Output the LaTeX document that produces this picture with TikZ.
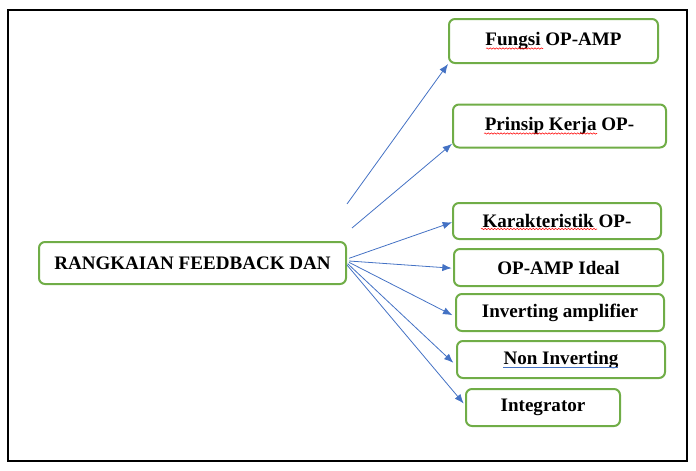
\documentclass[tikz,border=0pt]{standalone}
\usepackage{fontspec}
\setmainfont{Liberation Serif}
\usepackage{xcolor}
\usetikzlibrary{arrows.meta,positioning,calc,decorations.pathmorphing}

\definecolor{boxgreen}{RGB}{112,173,71}
\definecolor{arrowblue}{RGB}{68,114,196}

\begin{document}
\begin{tikzpicture}[x=0.75pt,y=-0.75pt,
  topic/.style={draw=boxgreen,line width=1.5pt,rounded corners=4.5pt,inner sep=0pt,
    font=\fontsize{14.3}{16}\selectfont\bfseries,text=black},
  link/.style={arrowblue,line width=0.6pt,-{Latex[length=7pt,width=5.5pt]}},
  spell/.style={red,line width=0.4pt,decorate,decoration={snake,amplitude=0.5pt,segment length=2.4pt}}]
% outer frame
\useasboundingbox (0,0) rectangle (696,471);
\draw[line width=0.9pt] (8,10) rectangle (687,461);

% main topic (left)
\node[topic,minimum width=230.25pt,minimum height=31.5pt] (rangkaian) at (192.5,263) {RANGKAIAN FEEDBACK DAN};

% sub topics (right column)
\node[topic,minimum width=156.75pt,minimum height=33pt] (fungsi) at (553.5,41) {Fungsi OP-AMP};
\node[topic,minimum width=159.75pt,minimum height=32.25pt] (prinsip) at (559.5,126) {Prinsip Kerja OP-};
\node[topic,minimum width=156pt,minimum height=27pt] (karakter) at (557,221) {Karakteristik OP-};
\node[topic,minimum width=156.75pt,minimum height=27.75pt] (ideal) at (558.5,267.5) {OP-AMP Ideal};
\node[topic,minimum width=156pt,minimum height=27.75pt] (inverting) at (560,312.5) {Inverting amplifier};
\node[topic,minimum width=156pt,minimum height=27.75pt] (noninv) at (561,359.5) {Non Inverting};
\node[topic,minimum width=115.5pt,minimum height=27.75pt] (integrator) at (543,407.5) {Integrator};

% spelling marks under the words
\draw[spell] (486,48.5) -- (543,48.5);
\draw[spell] (484,133.5) -- (597,133.5);
\draw[spell] (481,229) -- (597,229);
\draw[arrowblue,line width=0.6pt] (503,367) -- (618,367);

% connectors
\coordinate (hub) at (349,261);
\coordinate (fungsiout) at (347,204);
\coordinate (prinsipout) at (352,228);
\draw[link] (fungsiout) -- (fungsi.south west);
\draw[link] (prinsipout) -- ([yshift=3.5pt]prinsip.south west);
\draw[link] ([yshift=2pt]hub) -- ([yshift=-1pt]karakter.west);
\draw[link] (hub) -- ([xshift=-1pt,yshift=-0.5pt]ideal.west);
\draw[link] ([yshift=-1pt]hub) -- ([xshift=-2pt,yshift=-2pt]inverting.west);
\draw[link] ([xshift=-1pt,yshift=-2pt]hub) -- ([xshift=-2pt,yshift=-2.5pt]noninv.west);
\draw[link] ([xshift=-1.5pt,yshift=-3pt]hub) -- ([xshift=-1pt,yshift=3pt]integrator.west);
\end{tikzpicture}
\end{document}
